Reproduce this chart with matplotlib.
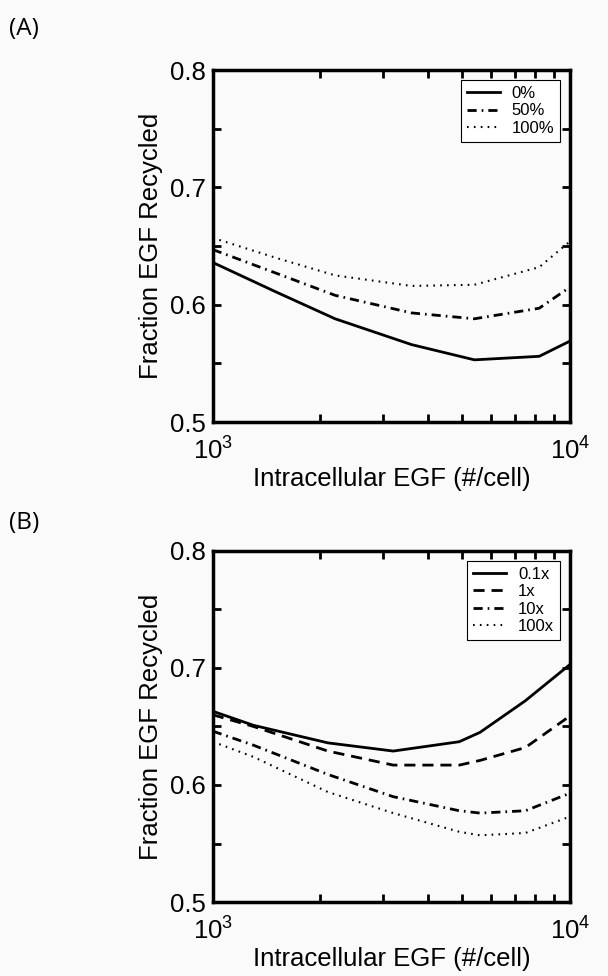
import matplotlib
matplotlib.use("Agg")
import matplotlib.pyplot as plt
from matplotlib.ticker import FixedLocator, NullFormatter

# ---- data ----
xa = [1000, 1500, 2200, 3600, 5400, 8200, 10000]
a_labels = ["0%", "50%", "100%"]
a_0 = [0.636, 0.611, 0.588, 0.566, 0.553, 0.556, 0.569]
a_50 = [0.647, 0.627, 0.608, 0.593, 0.588, 0.597, 0.615]
a_100 = [0.657, 0.640, 0.625, 0.616, 0.617, 0.632, 0.654]

xb = [1000, 1300, 2100, 3200, 4900, 5600, 7500, 10000]
b_labels = ["0.1x", "1x", "10x", "100x"]
b_01 = [0.663, 0.651, 0.636, 0.629, 0.637, 0.645, 0.672, 0.703]
b_1 = [0.660, 0.650, 0.629, 0.617, 0.617, 0.621, 0.632, 0.659]
b_10 = [0.646, 0.634, 0.609, 0.590, 0.578, 0.576, 0.578, 0.593]
b_100 = [0.637, 0.624, 0.594, 0.576, 0.560, 0.557, 0.559, 0.573]

y_ticks = [0.5, 0.6, 0.7, 0.8]
y_ticklabels = ['0.5', '0.6', '0.7', '0.8']
x_ticks = [1000, 10000]
x_ticklabels = [r'$10^3$', r'$10^4$']

plt.rcParams['font.family'] = ['Liberation Sans', 'DejaVu Sans']
plt.rcParams['mathtext.fontset'] = 'custom'
plt.rcParams['mathtext.rm'] = 'Liberation Sans'
plt.rcParams['mathtext.it'] = 'Liberation Sans'
plt.rcParams['mathtext.default'] = 'regular'

bg = '#fafafa'
fig = plt.figure(figsize=(6.08, 9.76), dpi=100, facecolor=bg)

styles = {
    'solid': dict(linestyle='-'),
    'dashed': dict(linestyle=(0, (4, 2.5))),
    'dashdot': dict(linestyle=(0, (3.3, 1.8, 0.6, 1.8))),
    'dotted': dict(linestyle=(0, (0.8, 2.5))),
}

def setup(ax):
    ax.set_facecolor(bg)
    ax.set_xscale('log')
    ax.set_xlim(1000, 10000)
    ax.set_ylim(0.5, 0.8)
    ax.set_yticks(y_ticks)
    ax.set_yticklabels(y_ticklabels)
    ax.yaxis.set_minor_locator(FixedLocator([0.55, 0.65, 0.75]))
    ax.xaxis.set_major_locator(FixedLocator(x_ticks))
    ax.set_xticklabels(x_ticklabels)
    ax.xaxis.set_minor_locator(FixedLocator([2000, 3000, 4000, 5000, 6000, 7000, 8000, 9000]))
    ax.xaxis.set_minor_formatter(NullFormatter())
    ax.tick_params(which='both', direction='in', top=True, right=True,
                   width=2, labelsize=18.5, length=6)
    ax.tick_params(axis='y', which='both', pad=5)
    ax.tick_params(axis='x', which='both', pad=11)
    for s in ax.spines.values():
        s.set_linewidth(2.5)
    ax.set_ylabel('Fraction EGF Recycled', fontsize=18.5, labelpad=5)
    ax.set_xlabel('Intracellular EGF (#/cell)', fontsize=18.5, labelpad=2)

def legend(ax):
    leg = ax.legend(loc='upper right', fontsize=12, frameon=True, fancybox=False,
                    borderaxespad=0.6, handlelength=2.0, labelspacing=0.15,
                    borderpad=0.35, handletextpad=0.7)
    fr = leg.get_frame()
    fr.set_edgecolor('black')
    fr.set_linewidth(0.8)
    fr.set_facecolor('white')
    fr.set_alpha(1)

# Panel A
axA = fig.add_axes([0.350, 0.5676, 0.5875, 0.3606])
setup(axA)
axA.plot(xa, a_0, color='black', lw=2, label=a_labels[0], **styles['solid'])
axA.plot(xa, a_50, color='black', lw=2, label=a_labels[1], **styles['dashdot'])
axA.plot(xa, a_100, color='black', lw=1.5, label=a_labels[2], **styles['dotted'])
legend(axA)

# Panel B
axB = fig.add_axes([0.350, 0.0758, 0.5875, 0.3597])
setup(axB)
axB.plot(xb, b_01, color='black', lw=2, label=b_labels[0], **styles['solid'])
axB.plot(xb, b_1, color='black', lw=2, label=b_labels[1], **styles['dashed'])
axB.plot(xb, b_10, color='black', lw=2, label=b_labels[2], **styles['dashdot'])
axB.plot(xb, b_100, color='black', lw=1.5, label=b_labels[3], **styles['dotted'])
legend(axB)

fig.text(0.014, 0.970, '(A)', fontsize=17.5, family=['Open Sans', 'DejaVu Sans'], va='center')
fig.text(0.014, 0.464, '(B)', fontsize=17.5, family=['Open Sans', 'DejaVu Sans'], va='center')

fig.savefig('out.png', dpi=100, facecolor=bg)
